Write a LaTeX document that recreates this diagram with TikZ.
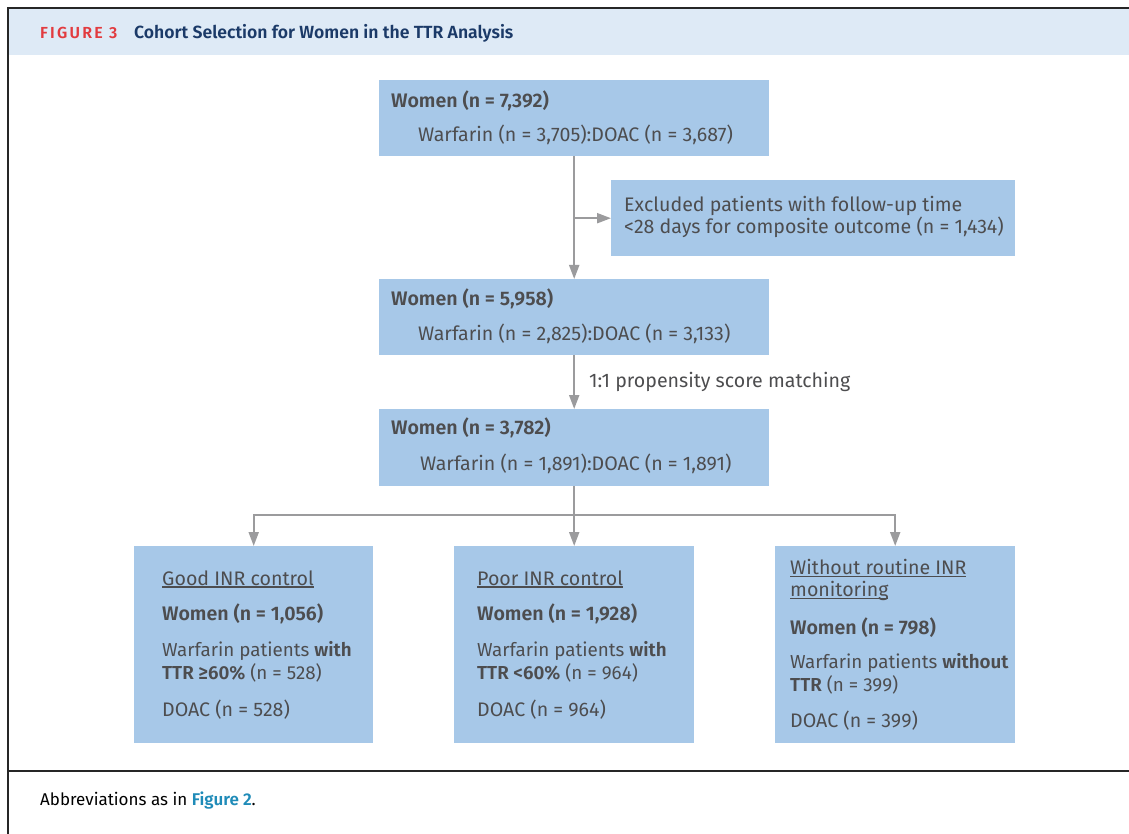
\documentclass[tikz,border=0pt]{standalone}
\usepackage{fontspec}
\setmainfont{Fira Sans}[BoldFont={* SemiBold}]
\usepackage{tikz}
\usetikzlibrary{positioning}
\usetikzlibrary{arrows.meta}
\definecolor{boxblue}{HTML}{A7C8E8}
\definecolor{headblue}{HTML}{DEEAF6}
\definecolor{ink}{HTML}{4D4D4F}
\definecolor{navy}{HTML}{1B3A68}
\definecolor{figred}{HTML}{E23B3F}
\definecolor{linkblue}{HTML}{1F8BB8}
\definecolor{connector}{HTML}{9B9B9D}
\newcommand{\ulined}[1]{\setbox0\hbox{#1}\rlap{\rule[-2.6pt]{\wd0}{1.2pt}}\box0}

\tikzset{
  box/.style={fill=boxblue, anchor=north west, inner sep=0pt},
  txt/.style={anchor=west, inner sep=0pt, text=ink, align=left, font=\fontsize{19.6}{22.5}\selectfont},
  txtnarrow/.style={txt, font=\fontsize{18.8}{22.5}\selectfont},
  arr/.style={draw=connector, line width=2pt, -{Triangle[length=14pt,width=10pt]}},
  conn/.style={draw=connector, line width=2pt},
}

\begin{document}
\begin{tikzpicture}[x=1pt, y=-1pt]
    \useasboundingbox (0,0) rectangle (1129,834);

    \fill[headblue] (9,9) rectangle (1129,55);
    \draw[black!85, line width=2pt] (1129,8) -- (8,8) -- (8,834);
    \draw[black!85, line width=2pt] (8,771) -- (1129,771);
    \node[anchor=west, inner sep=0pt, text=figred, font=\bfseries\fontsize{16}{18}\selectfont\addfontfeatures{LetterSpace=14}] (fignum) at (40,33) {FIGURE 3};
    \node[anchor=west, inner sep=0pt, text=navy, font=\bfseries\fontsize{17.6}{20}\selectfont] (title) at (134,33) {Cohort Selection for Women in the TTR Analysis};

    \node[box, minimum width=390, minimum height=76] (all) at (379,80) {};
    \node[txt] (allA) at (391,101) {\bfseries Women (n = 7,392)};
    \node[txt] (allB) at (418,135) {Warfarin (n = 3,705):DOAC (n = 3,687)};

    \node[box, minimum width=404, minimum height=76] (excl) at (611,180) {};
    \node[txt] (exclA) at (624,217) {Excluded patients with follow-up time\\<28 days for composite outcome (n = 1,434)};

    \node[box, minimum width=390, minimum height=76] (fu) at (379,279) {};
    \node[txt] (fuA) at (391,299) {\bfseries Women (n = 5,958)};
    \node[txt] (fuB) at (418,334) {Warfarin (n = 2,825):DOAC (n = 3,133)};

    \node[box, minimum width=390, minimum height=77] (psm) at (379,409) {};
    \node[txt] (psmA) at (391,428) {\bfseries Women (n = 3,782)};
    \node[txt] (psmB) at (420,464) {Warfarin (n = 1,891):DOAC (n = 1,891)};

    \node[box, minimum width=239, minimum height=197] (good) at (134,546) {};
    \node[txt] (goodA) at (162,579) {\ulined{Good INR control}};
    \node[txt] (goodB) at (162,614) {\bfseries Women (n = 1,056)};
    \node[txtnarrow] (goodC) at (162,662) {Warfarin patients \textbf{with}\\\textbf{TTR ≥60\%} (n = 528)};
    \node[txt] (goodD) at (162,710) {DOAC (n = 528)};

    \node[box, minimum width=240, minimum height=197] (poor) at (454,546) {};
    \node[txt] (poorA) at (477,579) {\ulined{Poor INR control}};
    \node[txt] (poorB) at (477,614) {\bfseries Women (n = 1,928)};
    \node[txtnarrow] (poorC) at (477,662) {Warfarin patients \textbf{with}\\\textbf{TTR <60\%} (n = 964)};
    \node[txt] (poorD) at (477,710) {DOAC (n = 964)};

    \node[box, minimum width=240, minimum height=197] (none) at (775,546) {};
    \node[txt] (noneA) at (790,580) {\ulined{Without routine INR}\\\ulined{monitoring}};
    \node[txt] (noneB) at (790,628) {\bfseries Women (n = 798)};
    \node[txtnarrow] (noneC) at (790,674) {Warfarin patients \textbf{without}\\\textbf{TTR} (n = 399)};
    \node[txt] (noneD) at (790,721) {DOAC (n = 399)};

    \draw[arr] (all.south) -- (fu.north);
    \draw[arr] (all.south |- excl.west) -- (excl.west);
    \draw[arr] (fu.south) -- (psm.north) node[txt, midway, anchor=west, xshift=14pt] (psmlabel) {1:1 propensity score matching};
    \draw[conn] (psm.south) -- ++(0,29) coordinate (split);
    \draw[arr] (split) -- (poor.north);
    \draw[arr] (split) -| (good.north);
    \draw[arr] (split) -| (none.north);

    \node[anchor=west, inner sep=0pt, text=black, font=\fontsize{17}{20}\selectfont] (foot) at (40,801) {Abbreviations as in \textcolor{linkblue}{\bfseries Figure 2}.};
\end{tikzpicture}
\end{document}
